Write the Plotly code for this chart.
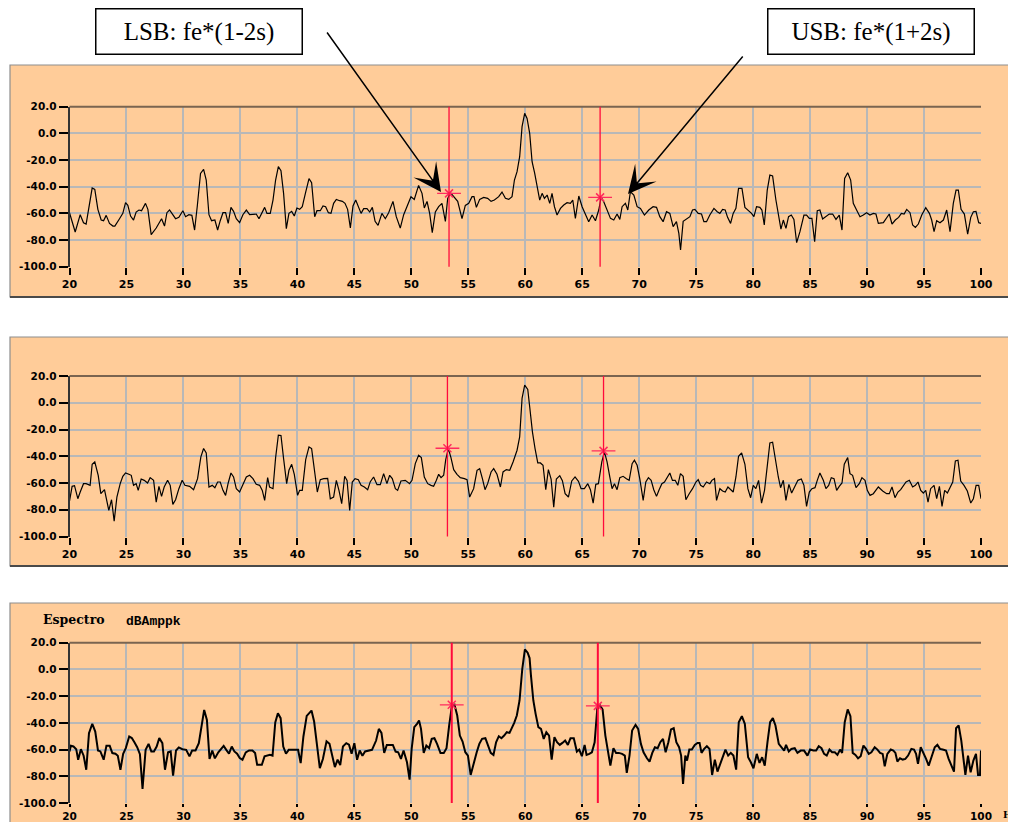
import plotly.graph_objects as go

# ---------------- data ----------------
x_ticks = [20, 25, 30, 35, 40, 45, 50, 55, 60, 65, 70, 75, 80, 85, 90, 95, 100]
y_ticks = [20, 0, -20, -40, -60, -80, -100]
y_ticktext = ["20.0", "0.0", "-20.0", "-40.0", "-60.0", "-80.0", "-100.0"]

p1_freq = [20.00, 20.50, 20.94, 21.23, 21.46, 21.76, 21.99, 22.22, 22.49, 22.78, 22.99, 23.22, 23.51, 23.81, 23.98,
           24.39, 24.68, 24.92, 25.12, 25.36, 25.62, 25.85, 26.09, 26.32, 26.67, 26.88, 27.17, 27.61, 27.85, 28.08,
           28.34, 28.55, 28.78, 29.02, 29.31, 29.60, 29.95, 30.19, 30.48, 30.74, 30.98, 31.21, 31.50, 31.77, 32.00,
           32.24, 32.47, 32.76, 33.00, 33.23, 33.47, 33.70, 33.93, 34.17, 34.40, 34.64, 34.93, 35.22, 35.52, 35.81,
           36.10, 36.39, 36.63, 36.86, 37.13, 37.33, 37.62, 37.86, 38.09, 38.33, 38.56, 38.79, 39.03, 39.26, 39.50,
           39.73, 39.96, 40.20, 40.43, 40.73, 41.02, 41.25, 41.52, 41.72, 42.01, 42.25, 42.48, 42.72, 42.95, 43.18,
           43.42, 43.71, 43.95, 44.18, 44.41, 44.65, 44.88, 45.12, 45.35, 45.59, 45.82, 46.11, 46.35, 46.58, 46.82,
           47.08, 47.42, 47.72, 48.01, 48.39, 48.68, 49.03, 49.33, 49.68, 49.97, 50.26, 50.64, 50.94, 51.14, 51.38,
           51.61, 51.84, 52.11, 52.40, 52.69, 52.99, 53.19, 53.43, 53.72, 54.07, 54.45, 54.74, 55.04, 55.33, 55.50,
           55.71, 56.00, 56.35, 56.70, 57.00, 57.29, 57.67, 57.96, 58.26, 58.55, 58.84, 59.05, 59.28, 59.51, 59.72,
           59.95, 60.16, 60.39, 60.60, 60.83, 61.04, 61.27, 61.48, 61.68, 61.92, 62.15, 62.35, 62.56, 62.79, 63.09,
           63.38, 63.67, 63.96, 64.17, 64.40, 64.70, 64.99, 65.28, 65.57, 65.87, 66.16, 66.45, 66.66, 66.89, 67.18,
           67.48, 67.77, 68.06, 68.30, 68.50, 68.79, 69.00, 69.23, 69.53, 69.82, 70.11, 70.46, 70.84, 71.22, 71.52,
           71.81, 72.10, 72.40, 72.69, 72.98, 73.27, 73.48, 73.63, 73.86, 74.21, 74.45, 74.68, 74.89, 75.18, 75.47,
           75.68, 75.91, 76.20, 76.56, 76.85, 77.08, 77.32, 77.55, 77.76, 78.02, 78.25, 78.49, 78.72, 79.02, 79.28,
           79.57, 79.86, 80.07, 80.30, 80.59, 80.77, 80.98, 81.24, 81.47, 81.71, 82.00, 82.24, 82.44, 82.65, 82.88,
           83.11, 83.35, 83.58, 83.82, 84.11, 84.46, 84.69, 84.93, 85.16, 85.40, 85.63, 85.86, 86.10, 86.39, 86.68,
           86.98, 87.27, 87.56, 87.80, 88.03, 88.30, 88.56, 88.79, 89.08, 89.38, 89.67, 89.96, 90.25, 90.55, 90.78,
           90.99, 91.43, 91.72, 91.95, 92.19, 92.48, 92.77, 93.01, 93.25, 93.48, 93.77, 94.00, 94.24, 94.50, 94.80,
           95.15, 95.47, 95.67, 95.88, 96.11, 96.40, 96.70, 96.99, 97.28, 97.57, 97.81, 98.01, 98.25, 98.54, 98.83,
           99.10, 99.33, 99.56, 99.80, 100.00]
p1_db = [-59.5, -74, -61, -67, -68, -52, -41, -42, -57, -65, -65.5, -61.5, -67.5, -69.5, -69.5,
         -64, -60, -52, -54, -62, -65, -59, -57.5, -58, -52.5, -57, -76, -71, -67, -64,
         -69.5, -59.5, -57.5, -60.5, -64, -63, -58, -62.5, -61, -61.5, -72.5, -55, -30, -27, -35,
         -61, -65.5, -65, -72.5, -65.5, -59.5, -59.5, -67.5, -55.5, -58.5, -64, -67, -61, -57.5, -61,
         -60.5, -60.5, -64, -60, -55.5, -60, -60, -50, -35, -25, -28, -45, -71.5, -60, -58.5,
         -62, -56, -57, -55, -44, -34, -37, -62.5, -58, -58, -54.5, -55, -59.5, -60, -52.5,
         -49.5, -50.5, -51, -52.5, -57, -71, -54.5, -50, -55, -60, -56.5, -56.5, -59, -55.5, -66,
         -69, -60, -64, -59.5, -51, -62.5, -71, -61, -54, -47.5, -49.5, -39, -45, -56, -51,
         -60, -74.5, -59, -55, -52.5, -66, -49, -44.5, -47.5, -51, -64, -54, -52.5, -47.5, -47.5,
         -55.5, -49.5, -48, -48.75, -51, -50, -47.5, -44, -48.75, -49.5, -47.5, -35, -28.75, -17.5, 5,
         15, 11.25, 0, -21.25, -30, -39.5, -50, -45, -48.75, -46.25, -52.5, -45, -55, -61.25, -56.25,
         -53.75, -52, -52.5, -50, -63.75, -47, -55, -61.25, -66.25, -61.25, -65.5, -57.5, -48, -51.25, -57.5,
         -63.75, -65, -60.5, -64.5, -55, -52.5, -57.5, -43.75, -46.25, -55, -56.25, -61.25, -57.5, -55, -55.5,
         -62.5, -66.25, -58.75, -60, -70, -66.25, -75, -87.5, -66, -64, -62.5, -57.5, -57, -60, -60.5,
         -66.25, -66.25, -61.25, -56.25, -58.75, -60, -57, -57.5, -63, -67.5, -60, -56.25, -41.25, -41.25, -55.5,
         -57.5, -60, -62.5, -55, -55.5, -57.5, -68.75, -42.5, -31.25, -32, -50, -62.5, -71.75, -65, -71.25,
         -62.5, -61.25, -64.5, -82, -73.75, -61.25, -61.25, -63.75, -63.75, -81.25, -58, -57.5, -64.25, -62.5, -60.5,
         -60.5, -64.5, -61.25, -72.5, -33.75, -29.5, -35, -52.5, -57.5, -62.5, -61.25, -59.5, -61.25, -60, -60.5,
         -67.5, -67, -63.75, -60.5, -68, -65, -63, -60, -60.5, -57, -59.5, -68.75, -70.5, -68, -61.25,
         -55.75, -60, -65, -73.75, -65.5, -67, -65, -57.5, -73.75, -52.5, -42.5, -42.5, -57, -60.5, -75.5,
         -63, -58.75, -58.5, -67, -67.5]

p2_freq = [20.00, 20.23, 20.44, 20.73, 20.94, 21.23, 21.46, 21.81, 21.99, 22.22, 22.52, 22.75, 23.07, 23.28, 23.45,
           23.69, 23.92, 24.16, 24.45, 24.68, 24.92, 25.21, 25.42, 25.62, 25.85, 26.03, 26.29, 26.56, 26.85, 27.08,
           27.38, 27.61, 27.85, 28.08, 28.31, 28.61, 28.84, 29.07, 29.31, 29.60, 29.89, 30.13, 30.54, 30.89, 31.24,
           31.53, 31.77, 32.00, 32.24, 32.53, 32.76, 33.00, 33.23, 33.47, 33.70, 33.93, 34.17, 34.40, 34.64, 34.93,
           35.22, 35.52, 35.81, 36.10, 36.39, 36.69, 36.92, 37.13, 37.39, 37.56, 37.86, 38.09, 38.33, 38.56, 38.79,
           39.06, 39.26, 39.50, 39.73, 40.02, 40.20, 40.43, 40.73, 41.02, 41.25, 41.55, 41.75, 42.01, 42.31, 42.66,
           42.89, 43.18, 43.42, 43.65, 43.89, 44.15, 44.36, 44.59, 44.82, 45.06, 45.35, 45.59, 45.88, 46.17, 46.40,
           46.69, 46.99, 47.28, 47.57, 47.86, 48.10, 48.33, 48.60, 48.80, 49.09, 49.47, 49.85, 50.06, 50.35, 50.64,
           50.88, 51.14, 51.44, 51.73, 51.96, 52.20, 52.40, 52.61, 52.84, 53.02, 53.25, 53.48, 53.72, 54.01, 54.30,
           54.66, 54.89, 55.12, 55.47, 55.77, 56.00, 56.24, 56.47, 56.70, 57.00, 57.23, 57.52, 57.82, 58.05, 58.34,
           58.64, 58.93, 59.28, 59.51, 59.72, 59.95, 60.22, 60.39, 60.63, 60.86, 61.10, 61.33, 61.56, 61.80, 62.03,
           62.27, 62.50, 62.73, 63.03, 63.26, 63.50, 63.79, 64.08, 64.37, 64.67, 64.90, 65.19, 65.49, 65.72, 65.96,
           66.19, 66.42, 66.72, 66.95, 67.18, 67.42, 67.62, 67.83, 68.06, 68.30, 68.59, 68.88, 69.12, 69.38, 69.58,
           69.82, 70.05, 70.35, 70.58, 70.81, 71.05, 71.28, 71.52, 71.75, 71.99, 72.22, 72.45, 72.69, 72.92, 73.16,
           73.39, 73.62, 73.86, 74.10, 74.39, 74.68, 74.98, 75.18, 75.39, 75.62, 75.91, 76.20, 76.38, 76.61, 76.79,
           77.08, 77.32, 77.55, 77.79, 78.02, 78.25, 78.49, 78.72, 78.99, 79.28, 79.54, 79.78, 80.01, 80.24, 80.48,
           80.74, 81.00, 81.24, 81.47, 81.71, 81.97, 82.21, 82.41, 82.65, 82.88, 83.14, 83.38, 83.67, 83.93, 84.23,
           84.46, 84.69, 84.93, 85.16, 85.43, 85.63, 85.86, 86.16, 86.39, 86.63, 86.86, 87.10, 87.33, 87.56, 87.80,
           88.00, 88.30, 88.50, 88.73, 89.03, 89.32, 89.55, 89.82, 90.02, 90.26, 90.55, 90.99, 91.37, 91.72, 91.95,
           92.19, 92.45, 92.71, 92.95, 93.18, 93.42, 93.71, 94.00, 94.24, 94.47, 94.71, 94.94, 95.15, 95.35, 95.58,
           95.88, 96.11, 96.35, 96.58, 96.81, 97.05, 97.28, 97.52, 97.75, 97.98, 98.22, 98.51, 98.80, 99.10, 99.33,
           99.57, 99.80, 100.00]
p2_db = [-73.5, -62.5, -62, -71.75, -66.75, -60.5, -60.5, -61.75, -46, -44.25, -54.25, -68, -65, -73, -80.5,
         -72.5, -88.5, -70.5, -60.5, -55, -52.5, -53.5, -54.25, -61.75, -60.5, -65.5, -57, -58, -60, -56,
         -58, -74.25, -62.5, -70, -63, -58, -61.75, -76, -72.5, -64.25, -58, -61.75, -62.5, -65, -56.75,
         -40.5, -34.25, -37.5, -63, -61.75, -63.5, -59.25, -59.25, -65.5, -69.25, -60, -52.5, -55.5, -64.25, -66.75,
         -61.75, -55.5, -54.25, -56.75, -61, -61.75, -65.5, -73, -56, -63, -64.25, -41, -24.25, -24.5, -41.75,
         -60.5, -50.5, -46, -53.5, -69.25, -65.5, -65.5, -42.5, -33, -34.25, -55.5, -66.75, -57.5, -56.75, -56.5,
         -71.75, -70.5, -58, -65.5, -75.5, -55, -58, -80.5, -59.25, -56.75, -57.5, -61.75, -63, -65, -59,
         -55.5, -61.25, -61.25, -53, -60.5, -54.25, -56.75, -64.25, -65.5, -58.5, -58, -60.5, -58, -45.5, -39.25,
         -41, -55.5, -60.5, -61.75, -62.5, -58, -53.5, -56, -54.25, -42.5, -34.25, -41, -50, -53.5, -56,
         -56.75, -57.5, -70.5, -64.25, -50.5, -49.25, -56.75, -65, -60.5, -51.75, -49.25, -53.5, -63, -51.75, -50,
         -50.5, -44.25, -35.5, -25.5, 3.25, 13.25, 10, -3, -21.75, -34.25, -45, -45, -46.75, -65, -50,
         -57, -78, -57, -54.5, -58.25, -68, -70.5, -58.5, -55.5, -58.75, -64.25, -64.25, -60.5, -65, -75,
         -61, -60.5, -44.25, -36.75, -44.25, -55.5, -64.25, -60.5, -65, -56, -55, -56.75, -58, -45.5, -43,
         -46.75, -56.75, -73, -59.25, -56, -58, -65, -70, -65, -60.5, -59.25, -55.5, -52.5, -58, -58,
         -61.75, -53, -55, -72.5, -68, -64.25, -59.25, -57.5, -61.75, -63, -59.25, -60.5, -58, -56.75, -73,
         -64.25, -66, -66.75, -63, -65, -66.75, -55.5, -40, -37.5, -46, -64.25, -71, -61.75, -64.25, -58,
         -75, -65.5, -48, -30, -29.5, -45, -55.5, -63.5, -58, -73, -61, -67.5, -61.75, -58, -57,
         -61.75, -77.5, -66.75, -64.25, -63.5, -58, -52.5, -58, -64.25, -61.75, -56, -56.75, -65.5, -62.5, -60,
         -46, -41, -53, -54.25, -63.5, -60.5, -56, -58, -65.5, -69.25, -68, -63, -66, -68, -68,
         -63, -71, -66.75, -65, -61.75, -59.25, -58, -63, -61.75, -59.25, -65.5, -67.5, -65.5, -74.25, -64.25,
         -61.75, -71.75, -62.5, -77.5, -65.5, -67.5, -63, -59.25, -43.5, -43, -58.5, -61.75, -66, -75, -71.75,
         -61.75, -61.75, -71.75]

p3_freq = [20.00, 20.12, 20.35, 20.59, 20.76, 21.00, 21.24, 21.47, 21.71, 22.00, 22.26, 22.50, 22.71, 23.00, 23.24,
           23.53, 23.76, 24.03, 24.24, 24.47, 24.71, 24.94, 25.24, 25.47, 25.71, 25.94, 26.18, 26.41, 26.68, 26.94,
           27.18, 27.41, 27.65, 27.88, 28.15, 28.38, 28.65, 28.88, 29.09, 29.35, 29.59, 29.91, 30.24, 30.53, 30.76,
           31.06, 31.35, 31.59, 31.82, 32.06, 32.29, 32.53, 32.76, 33.06, 33.29, 33.53, 33.76, 34.00, 34.24, 34.47,
           34.71, 34.94, 35.18, 35.47, 35.76, 36.06, 36.29, 36.47, 36.71, 36.88, 37.12, 37.35, 37.59, 37.82, 38.06,
           38.29, 38.53, 38.76, 39.00, 39.24, 39.47, 39.76, 40.06, 40.29, 40.53, 40.82, 41.24, 41.47, 41.71, 41.97,
           42.24, 42.56, 42.82, 43.06, 43.29, 43.53, 43.76, 44.00, 44.29, 44.53, 44.76, 45.00, 45.24, 45.47, 45.71,
           45.94, 46.24, 46.55, 46.91, 47.15, 47.38, 47.62, 47.85, 48.15, 48.38, 48.62, 48.85, 49.09, 49.32, 49.62,
           49.85, 50.03, 50.26, 50.50, 50.68, 50.85, 51.09, 51.32, 51.56, 51.79, 52.03, 52.26, 52.56, 52.85, 53.09,
           53.32, 53.56, 53.79, 54.03, 54.26, 54.50, 54.74, 54.97, 55.21, 55.44, 55.74, 55.97, 56.21, 56.50, 56.74,
           56.97, 57.21, 57.44, 57.68, 57.91, 58.15, 58.38, 58.62, 58.79, 59.03, 59.26, 59.50, 59.74, 59.97, 60.21,
           60.38, 60.50, 60.71, 60.91, 61.15, 61.38, 61.62, 61.85, 62.09, 62.32, 62.56, 62.79, 63.03, 63.26, 63.50,
           63.74, 63.97, 64.26, 64.53, 64.74, 64.97, 65.21, 65.38, 65.62, 65.85, 66.09, 66.32, 66.56, 66.79, 67.03,
           67.26, 67.47, 67.74, 67.97, 68.21, 68.50, 68.74, 68.91, 69.15, 69.38, 69.68, 69.91, 70.15, 70.38, 70.68,
           70.91, 71.15, 71.38, 71.62, 71.85, 72.09, 72.32, 72.56, 72.79, 73.03, 73.26, 73.50, 73.68, 73.85, 74.05,
           74.20, 74.40, 74.62, 74.88, 75.12, 75.30, 75.47, 75.70, 75.94, 76.17, 76.40, 76.64, 76.87, 77.11, 77.34,
           77.57, 77.81, 78.04, 78.27, 78.51, 78.74, 79.01, 79.27, 79.56, 79.80, 80.03, 80.32, 80.56, 80.79, 81.02,
           81.26, 81.49, 81.73, 81.96, 82.25, 82.49, 82.72, 82.89, 83.13, 83.36, 83.65, 83.89, 84.18, 84.47, 84.77,
           85.00, 85.29, 85.53, 85.76, 86.00, 86.23, 86.46, 86.70, 86.93, 87.17, 87.40, 87.63, 87.81, 88.04, 88.30,
           88.54, 88.74, 88.98, 89.21, 89.44, 89.68, 89.91, 90.15, 90.38, 90.67, 90.91, 91.14, 91.37, 91.55, 91.78,
           92.08, 92.31, 92.49, 92.66, 92.89, 93.13, 93.36, 93.60, 93.89, 94.12, 94.30, 94.47, 94.71, 94.94, 95.18,
           95.41, 95.70, 95.94, 96.17, 96.40, 96.64, 96.93, 97.16, 97.40, 97.63, 97.81, 98.04, 98.27, 98.45, 98.63,
           98.86, 99.09, 99.33, 99.56, 99.74, 99.91, 100.00]
p3_db = [-61.4, -57.2, -57.7, -59.7, -67.6, -59.7, -64.6, -75.1, -47.7, -40.7, -46.5, -60.7, -61.4, -67.6, -57.2,
         -57.2, -62.6, -63.1, -64.6, -75.1, -63.1, -58.9, -50.2, -51.4, -54.7, -58.2, -63.4, -89.5, -60.2, -55.7,
         -61.4, -61.4, -57.7, -51.4, -55.2, -75.1, -62.1, -61.4, -79.6, -60.7, -58.4, -59.7, -60.2, -65.1, -60.7,
         -60.7, -55.2, -41.5, -30.3, -37.8, -67.1, -60.7, -66.6, -62.1, -59.7, -57.2, -60.2, -63.1, -57.7, -61.4,
         -63.1, -66.4, -67.6, -62.1, -60.7, -60.7, -62.6, -71.4, -71.4, -71.4, -65.1, -64.6, -63.9, -64.6, -39.7,
         -32.8, -36.5, -57.7, -63.1, -60.2, -60.2, -60.2, -60.2, -70.1, -50.2, -34.8, -30.8, -39.0, -57.7, -73.9,
         -67.1, -53.9, -55.7, -63.9, -73.1, -67.6, -71.6, -57.7, -55.2, -56.4, -63.1, -55.2, -67.6, -60.7, -64.6,
         -61.4, -60.7, -60.2, -53.25, -44.5, -47.5, -62.5, -56.5, -56.5, -56.5, -61.5, -62, -67, -60.75, -69.5,
         -82.5, -59.5, -43.25, -40.75, -38.25, -44.5, -62.5, -57, -59, -52, -51.5, -55.75, -62.5, -62.5, -59,
         -42, -27.5, -26.5, -34.5, -49.5, -54, -62, -64.5, -79, -70.75, -62, -55.75, -52, -51.5, -57,
         -62.5, -64, -54.5, -50, -51.5, -49.5, -47, -47.5, -44.5, -40, -34.5, -23.25, 0.5, 15, 12.5,
         8.5, -4.5, -23.25, -33.25, -43.25, -44.5, -52, -47, -49.5, -67.5, -50.75, -54.5, -56.5, -55, -53.25,
         -56.5, -51.5, -51.5, -61.5, -60, -65, -56.5, -64, -63.25, -62, -54.5, -29.5, -27, -30, -49.5,
         -60.75, -72, -59, -62.5, -62.5, -63.25, -64.5, -77.5, -64.5, -45.75, -41.5, -44.5, -55.75, -62, -66.5,
         -69, -62.5, -58.25, -59, -54.5, -52, -62, -54.5, -45, -44, -54.5, -58.25, -64.5, -85.75, -64.5,
         -68.25, -60, -60, -56.5, -55, -55, -62.5, -59.5, -57.5, -59.5, -79, -67.5, -76.5, -70.75, -64.5,
         -60, -64.5, -62.5, -64.5, -75, -39.5, -35, -40.75, -65.75, -69.5, -74, -63.25, -70, -65.75, -72,
         -54.5, -39.5, -36.5, -42, -55.75, -58.25, -60.75, -56.5, -61.5, -59.5, -59, -62.5, -60.75, -60.75, -64.5,
         -60, -60.75, -60.75, -57.5, -59, -63.25, -64.5, -60, -62, -62, -64, -60, -62.5, -39.5, -30,
         -35, -62.5, -64, -66.5, -65, -57, -59.5, -63.25, -62, -58.25, -60, -62.5, -63.25, -72.5, -63.25,
         -60, -60.75, -62.5, -69, -66.5, -67.5, -67, -64.5, -59.5, -60, -63.25, -70.75, -58.25, -62, -67,
         -72, -64, -58.25, -56.5, -59.5, -60, -60.75, -67, -72, -76.5, -44, -42, -53.25, -66.5, -79,
         -64.5, -77, -68.25, -63.25, -79, -79, -60.75]

# sideband cursors (LSB / USB) per panel
lsb_freq = [53.31, 53.17, 53.55]
lsb_db = [-45.0, -34.0, -26.5]
usb_freq = [66.57, 66.87, 66.37]
usb_db = [-48.0, -36.0, -27.3]

# ---------------- layout helpers ----------------
# The page body keeps an 8px margin: the figure is sized to fit the window
# and page coordinates are shifted by that offset.
OFF = 8
W, H = 1008, 814


def px(x):
    return (x - OFF) / W


def py(y):
    return 1 - (y - OFF) / H


ORANGE = "#FFCC99"
GRID = "#B8B8B8"
RED = "#FF0A3C"
MRED = "#FF2A5F"

panels = [
    dict(freq=p1_freq, db=p1_db, top=106.7, bot=266.7, bg=(65, 297), lw=1.2, rw=1.3, tl=7, xf=11),
    dict(freq=p2_freq, db=p2_db, top=376.0, bot=536.5, bg=(337, 566), lw=1.2, rw=1.3, tl=7, xf=11),
    dict(freq=p3_freq, db=p3_db, top=642.7, bot=803.0, bg=(603, 840), lw=2.0, rw=2.0, tl=3, xf=10.5),
]

fig = go.Figure()
shapes = []
annotations = []
layout = {}
X0, X1 = 69.5, 981.0

for i, p in enumerate(panels, start=1):
    sfx = "" if i == 1 else str(i)
    xa, ya = "x" + sfx, "y" + sfx

    shapes.append(dict(type="rect", xref="paper", yref="paper", layer="below",
                       x0=px(10), x1=px(1015), y0=py(p["bg"][1]), y1=py(p["bg"][0]),
                       fillcolor=ORANGE, line=dict(color="#8E8E8E", width=1.2)))
    # darker bottom edge of the frame
    shapes.append(dict(type="line", xref="paper", yref="paper", layer="below",
                       x0=px(10), x1=px(1015), y0=py(p["bg"][1]), y1=py(p["bg"][1]),
                       line=dict(color="#4A4A4A", width=2)))
    shapes.append(dict(type="line", xref="paper", yref="paper", layer="above",
                       x0=px(X0), x1=px(X1), y0=py(p["top"]), y1=py(p["top"]),
                       line=dict(color="#7A6450", width=2)))

    fig.add_trace(go.Scatter(x=p["freq"], y=p["db"], mode="lines", xaxis=xa, yaxis=ya,
                             line=dict(color="black", width=p["lw"]), showlegend=False,
                             hoverinfo="skip"))

    for f in (lsb_freq[i - 1], usb_freq[i - 1]):
        shapes.append(dict(type="line", xref=xa, yref=ya + " domain", layer="above",
                           x0=f, x1=f, y0=0, y1=1, line=dict(color=RED, width=p["rw"])))
    mx = [lsb_freq[i - 1], usb_freq[i - 1]]
    my = [lsb_db[i - 1], usb_db[i - 1]]
    fig.add_trace(go.Scatter(x=mx, y=my, mode="markers", xaxis=xa, yaxis=ya, showlegend=False,
                             marker=dict(symbol="line-ew", size=17, line=dict(color=MRED, width=1.3)),
                             hoverinfo="skip"))
    fig.add_trace(go.Scatter(x=mx, y=my, mode="markers", xaxis=xa, yaxis=ya, showlegend=False,
                             marker=dict(symbol="x-thin", size=8, line=dict(color=MRED, width=1.5)),
                             hoverinfo="skip"))

    layout["xaxis" + sfx] = dict(
        domain=[px(X0), px(X1)], range=[20, 100], anchor=ya, automargin=False,
        tickmode="array", tickvals=x_ticks, ticktext=[str(v) for v in x_ticks],
        ticks="outside", ticklen=p["tl"], tickwidth=1.5, tickcolor="black",
        showgrid=True, gridcolor=GRID, gridwidth=1.5, zeroline=False, showline=False,
        tickfont=dict(family="DejaVu Sans", size=p["xf"], color="black", weight="bold"),
        fixedrange=True)
    layout["yaxis" + sfx] = dict(
        domain=[py(p["bot"]), py(p["top"])], range=[-100, 20], anchor=xa, automargin=False,
        tickmode="array", tickvals=y_ticks, ticktext=y_ticktext,
        ticks="outside", ticklen=9, tickwidth=1.5, tickcolor="black",
        showgrid=True, gridcolor=GRID, gridwidth=1.5, zeroline=False,
        showline=True, linecolor="#333333", linewidth=1.8,
        tickfont=dict(family="DejaVu Sans", size=10.5, color="black", weight="bold"),
        fixedrange=True)

annotations.append(dict(text="Espectro", xref="paper", yref="paper", x=px(41), y=py(619),
                        xanchor="left", yanchor="middle", showarrow=False,
                        font=dict(family="DejaVu Serif", size=12.5, color="black", weight="bold")))
annotations.append(dict(text="dBAmppk", xref="paper", yref="paper", x=px(124), y=py(621),
                        xanchor="left", yanchor="middle", showarrow=False,
                        font=dict(family="Liberation Mono", size=13, color="black", weight="bold")))
annotations.append(dict(text="Hz", xref="paper", yref="paper", x=px(1001), y=py(814),
                        xanchor="left", yanchor="middle", showarrow=False,
                        font=dict(family="DejaVu Serif", size=9.5, color="black", weight="bold")))

for txt, cx in (("LSB: fe*(1-2s)", 198.5), ("USB: fe*(1+2s)", 871)):
    annotations.append(dict(text=txt, xref="paper", yref="paper", x=px(cx), y=py(31.5),
                            xanchor="center", yanchor="middle", showarrow=False,
                            width=205, height=44, borderpad=0, bgcolor="white",
                            bordercolor="black", borderwidth=1.5, align="center", valign="middle",
                            font=dict(family="Liberation Serif", size=25, color="black")))

for tip, tail in (((441, 192), (326, 31)), ((628, 194), (744, 55))):
    annotations.append(dict(text="", xref="paper", yref="paper", x=px(tip[0]), y=py(tip[1]),
                            ax=tail[0] - tip[0], ay=tail[1] - tip[1], showarrow=True,
                            arrowhead=3, arrowsize=3.1, arrowwidth=1.5, arrowcolor="black",
                            standoff=0))

layout.update(dict(width=W, height=H, autosize=False, margin=dict(l=0, r=0, t=0, b=0, pad=0),
                   paper_bgcolor="white", plot_bgcolor="white",
                   shapes=shapes, annotations=annotations, showlegend=False))
fig.update_layout(**layout)

fig.write_html("out.html", include_plotlyjs=True, config={"displayModeBar": False})
